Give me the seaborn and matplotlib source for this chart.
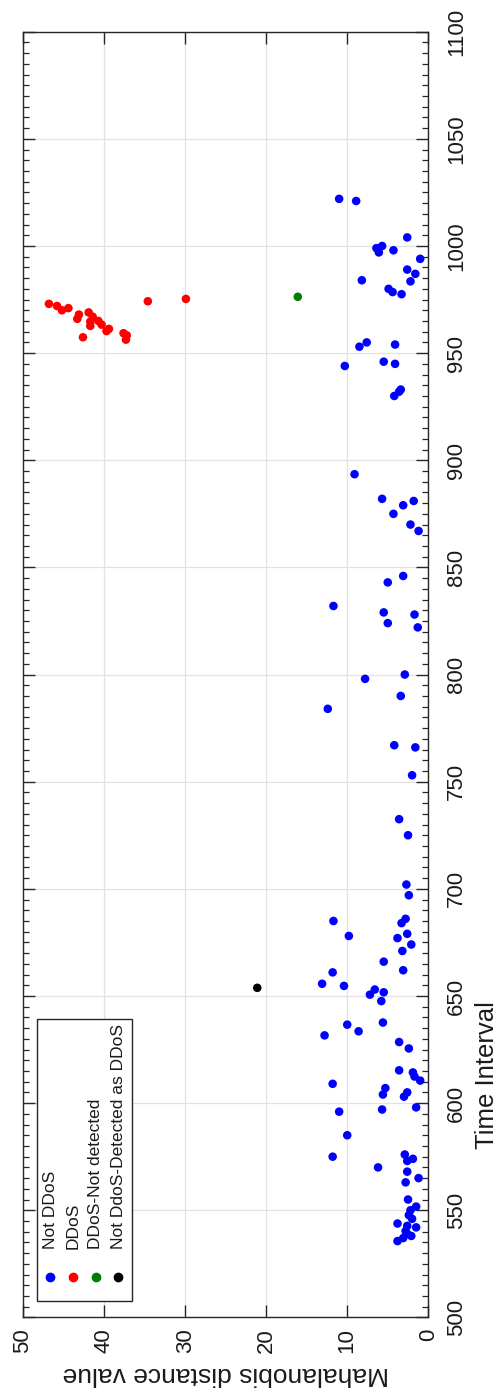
import numpy as np
import pandas as pd
import seaborn as sns
import matplotlib
matplotlib.use("Agg")
import matplotlib.pyplot as plt
from matplotlib.lines import Line2D
from matplotlib.offsetbox import TextArea, DrawingArea, VPacker, HPacker, AnchoredOffsetbox

# --- data (time interval, Mahalanobis distance) ---
not_ddos_t = [1022, 1021, 1004, 999, 1000, 997, 998, 994, 989, 987, 983.5, 984, 980, 978.5, 977.5,
              955, 953, 954, 946, 945, 944, 933, 932, 930, 893.5, 882, 881, 879, 875, 870, 867, 846, 843,
              832, 829, 828, 824, 822, 800, 798, 790, 784, 767, 766, 753, 732.5, 725, 702,
              697, 685, 678, 686, 684, 679, 677, 674, 671, 666, 662, 661, 655.7, 654.7, 653, 650.6, 651.7,
              647.6, 636.6, 633.5, 631.6, 637.6, 628.5, 625.5, 615.3, 614.3, 612.4, 610.5,
              609, 607, 604, 605, 603, 598, 596, 597, 585, 575, 576, 573, 574, 570, 568, 565, 563,
              555, 551.7, 550, 547.7, 546, 543.8, 542.7, 542, 540.3, 539, 538, 537, 535.6]
not_ddos_m = [11.0, 8.9, 2.6, 6.4, 5.7, 6.1, 4.3, 1.0, 2.6, 1.6, 2.2, 8.2, 4.9, 4.4, 3.3,
              7.6, 8.5, 4.1, 5.5, 4.1, 10.3, 3.4, 3.6, 4.2, 9.1, 5.7, 1.8, 3.1, 4.3, 2.2, 1.2, 3.1, 5.0,
              11.7, 5.5, 1.7, 5.0, 1.3, 2.9, 7.8, 3.4, 12.4, 4.2, 1.6, 2.0, 3.6, 2.5, 2.7,
              2.4, 11.7, 9.8, 2.8, 3.3, 2.6, 3.8, 2.1, 3.2, 5.5, 3.1, 11.8, 13.1, 10.4, 6.6, 7.2, 5.5,
              5.8, 10.0, 8.6, 12.8, 5.6, 3.6, 2.4, 3.6, 1.9, 1.7, 1.0,
              11.8, 5.3, 5.6, 2.6, 3.0, 1.5, 11.0, 5.7, 10.0, 11.8, 2.9, 2.6, 1.9, 6.2, 2.6, 1.2, 2.8,
              2.5, 1.5, 2.2, 2.4, 2.0, 3.8, 2.6, 1.5, 2.8, 2.6, 2.1, 3.1, 3.8]

ddos_t = [973, 972, 970, 971, 968, 966, 969, 967, 964.7, 962.7, 965, 963.3, 960.3, 961.3, 957.4,
          959.3, 958.3, 956.3, 974.2, 975.3]
ddos_m = [46.8, 45.8, 45.2, 44.4, 43.1, 43.3, 41.9, 41.4, 41.7, 41.7, 40.7, 40.3, 39.7, 39.4, 42.6,
          37.6, 37.2, 37.3, 34.6, 29.9]

missed_t = [976.3]
missed_m = [16.1]

false_alarm_t = [653.8]
false_alarm_m = [21.1]

labels = ["Not DDoS", "DDoS", "DDoS-Not detected", "Not DdoS-Detected as DDoS"]
colors = ["#0000ff", "#ff0000", "#008000", "#000000"]

df = pd.concat([
    pd.DataFrame({"t": not_ddos_t, "m": not_ddos_m, "cls": labels[0]}),
    pd.DataFrame({"t": ddos_t, "m": ddos_m, "cls": labels[1]}),
    pd.DataFrame({"t": missed_t, "m": missed_m, "cls": labels[2]}),
    pd.DataFrame({"t": false_alarm_t, "m": false_alarm_m, "cls": labels[3]}),
], ignore_index=True)

sns.set_style("white")
plt.rcParams["font.family"] = ["Liberation Sans", "DejaVu Sans"]

edge = "#262626"
fig = plt.figure(figsize=(5.01, 13.97), dpi=100)
ax = fig.add_axes([0.0459, 0.0570, 0.809, 0.9203])

# chart is drawn turned a quarter turn: distance runs along x (reversed), time along y
sns.scatterplot(data=df, x="m", y="t", hue="cls", hue_order=labels,
                palette=dict(zip(labels, colors)), s=38, linewidth=0, legend=False, ax=ax)

ax.set_xlim(50, 0)
ax.set_ylim(500, 1100)
ax.set_xticks(np.arange(0, 51, 10))
ax.set_yticks(np.arange(500, 1101, 50))
ax.set_yticks(np.arange(500, 1101, 5), minor=True)
ax.grid(True, which="major", color="#e2e2e2", lw=0.9)
ax.set_axisbelow(True)

for s in ax.spines.values():
    s.set_color(edge)
    s.set_linewidth(1.0)

ax.tick_params(axis="x", which="major", direction="in", length=8.5, width=1.0, color=edge,
               top=True, bottom=True, labelsize=16, labelrotation=90, pad=8, labelcolor="#1a1a1a")
ax.tick_params(axis="y", which="major", direction="in", length=8.5, width=1.0, color=edge,
               left=True, right=True, labelleft=False, labelright=True, labelsize=16,
               labelrotation=90, pad=13, labelcolor="#1a1a1a")
ax.tick_params(axis="y", which="minor", direction="in", length=4.5, width=0.9, color=edge,
               left=True, right=True)
for lab in ax.get_yticklabels():
    lab.set_va("center")
    lab.set_ha("left")

ax.set_xlabel("Mahalanobis distance value", fontsize=19, rotation=180, color="#1a1a1a")
ax.xaxis.set_label_coords(0.5, -0.044)
ax.xaxis.label.set_va("center")
ax.yaxis.set_label_position("right")
ax.set_ylabel("Time Interval", fontsize=18.5, rotation=90, color="#1a1a1a")
ax.yaxis.set_label_coords(1.145, 0.1885)
ax.yaxis.label.set_va("center")
ax.yaxis.label.set_ha("center")

# legend, also turned: marker under each label
entries = []
for lab, col in zip(labels, colors):
    ta = TextArea(lab, textprops=dict(rotation=90, fontsize=12.5, color="#1a1a1a",
                                      family=["Liberation Sans", "DejaVu Sans"]))
    da = DrawingArea(10, 26)
    da.add_artist(Line2D([5], [13], marker="o", ms=6, color=col, ls=""))
    entries.append(VPacker(children=[ta, da], align="center", pad=0, sep=7))
box = HPacker(children=entries, align="bottom", pad=0, sep=5.5)
leg = AnchoredOffsetbox(loc="lower left", child=box, pad=0.42, borderpad=0, frameon=True,
                        bbox_to_anchor=(0.0345, 0.0127), bbox_transform=ax.transAxes)
leg.patch.set_edgecolor(edge)
leg.patch.set_linewidth(1.0)
leg.patch.set_facecolor("white")
ax.add_artist(leg)

fig.savefig("out.png", dpi=100)
